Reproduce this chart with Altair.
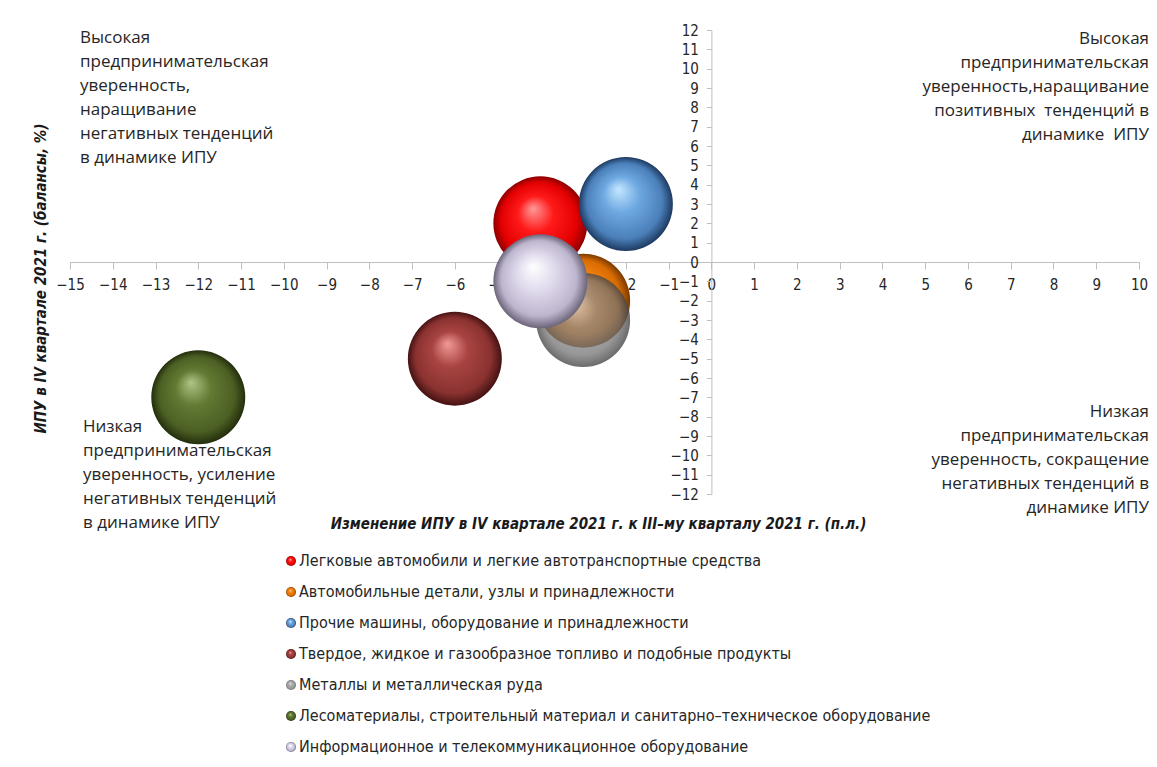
import altair as alt
import pandas as pd

# ---- data ----
categories = [
    "Легковые автомобили  и  легкие автотранспортные средства",
    "Автомобильные детали, узлы и принадлежности",
    "Прочие машины, оборудование и принадлежности",
    "Твердое, жидкое и газообразное топливо и подобные продукты",
    "Металлы и металлическая руда",
    "Лесоматериалы, строительный материал и санитарно–техническое оборудование",
    "Информационное и телекоммуникационное оборудование",
]
x_change = [-4, -3, -2, -6, -3, -12, -4]   # change of IPU, p.p.
y_ipu = [2, -2, 3, -5, -3, -7, -1]          # IPU in Q4 2021, balance %

x_ticks = list(range(-15, 11))
y_ticks = list(range(-12, 13))

x_title = "Изменение ИПУ в IV квартале 2021 г. к III–му кварталу 2021 г. (п.л.)"
y_title = "ИПУ в  IV квартале 2021 г.  (балансы, %)"

note_tl = ["Высокая", "предпринимательская", "уверенность,", "наращивание",
           "негативных тенденций", "в динамике ИПУ"]
note_tr = ["Высокая", "предпринимательская", "уверенность,наращивание",
           "позитивных\u00a0 тенденций в", "динамике\u00a0 ИПУ"]
note_bl = ["Низкая", "предпринимательская", "уверенность, усиление",
           "негативных тенденций", "в динамике ИПУ"]
note_br = ["Низкая", "предпринимательская", "уверенность, сокращение",
           "негативных тенденций в", "динамике ИПУ"]

# sphere shading: highlight, body, shade, rim
sphere_stops = [
    ["#ff9a9a", "#ff1a1a", "#e30000", "#8c0000"],
    ["#ffc586", "#f58214", "#d96c00", "#7a3a00"],
    ["#c4e8ff", "#6fa9e2", "#4b80ba", "#1d3a60"],
    ["#f29a98", "#a84442", "#8a3230", "#451212"],
    ["rgba(215,215,215,0.72)", "rgba(140,140,140,0.72)", "rgba(115,115,115,0.74)", "rgba(70,70,70,0.8)"],
    ["#b1c486", "#627a33", "#4b5f23", "#232e0c"],
    ["#ffffff", "#e2dcee", "#bdb5cd", "#6b6479"],
]

def grad_expr(cols):
    offs = [0, 0.38, 0.8, 1]
    s = ",".join("{offset:%s,color:'%s'}" % (o, c) for o, c in zip(offs, cols))
    return ("{gradient:'radial',x1:0.42,y1:0.34,r1:0,x2:0.5,y2:0.5,r2:0.5,"
            "stops:[" + s + "]}")

color_range = [{"expr": grad_expr(c)} for c in sphere_stops]

df = pd.DataFrame({"cat": categories, "x": x_change, "y": y_ipu,
                   "idx": list(range(len(categories)))})

NARROW = "Liberation Sans Narrow, Arial Narrow, DejaVu Sans Condensed, sans-serif"
BODY = "Open Sans, Lato, sans-serif"
W, H = 1069, 464

x_enc = alt.X("x:Q",
              scale=alt.Scale(domain=[-15, 10], nice=False, zero=False),
              axis=alt.Axis(values=x_ticks, offset=-H / 2, title=x_title,
                            titleX=528, titleY=261, titleBaseline="middle",
                            titleFont=NARROW, titleFontSize=15,
                            titleFontWeight="bold", titleFontStyle="italic",
                            titleColor="#1a1a1a",
                            labelFont=NARROW, labelFontSize=15, labelColor="#262626",
                            labelPadding=8, tickSize=7, labelFlush=False,
                            labelOverlap=False, grid=False,
                            domainColor="#bfbfbf", tickColor="#bfbfbf"))
y_enc = alt.Y("y:Q",
              scale=alt.Scale(domain=[-12, 12], nice=False, zero=False),
              axis=alt.Axis(values=y_ticks, offset=-W * 15 / 25, title=y_title,
                            titleX=-671, titleY=248, titleAngle=270,
                            titleAlign="center", titleBaseline="middle",
                            titleFont=NARROW, titleFontSize=15,
                            titleFontWeight="bold", titleFontStyle="italic",
                            titleColor="#1a1a1a",
                            labelFont=NARROW, labelFontSize=15, labelColor="#262626",
                            labelPadding=8, tickSize=5, labelFlush=False,
                            labelOverlap=False, grid=False,
                            domainColor="#bfbfbf", tickColor="#bfbfbf"))

bubbles = alt.Chart(df).mark_point(filled=True, opacity=1, size=8836, shape="circle").encode(
    x=x_enc, y=y_enc,
    color=alt.Color("cat:N",
                    scale=alt.Scale(domain=categories, range=color_range),
                    legend=alt.Legend(title=None, orient="none", legendX=213, legendY=523,
                                      direction="vertical", labelFont=NARROW,
                                      labelFontSize=16, labelColor="#262626",
                                      symbolSize=100, symbolType="circle",
                                      symbolStrokeWidth=0,
                                      rowPadding=15, labelOffset=0, padding=0,
                                      labelLimit=0)),
    order=alt.Order("idx:Q"),
)

def note(lines, x, y, align):
    return alt.Chart(pd.DataFrame({"t": [lines]})).mark_text(
        align=align, baseline="alphabetic", font=BODY, fontSize=17,
        lineHeight=24, color="#262626").encode(
        text="t:N", x=alt.value(x), y=alt.value(y))

chart = alt.layer(
    bubbles,
    note(note_tl, 10, 13, "left"),
    note(note_tr, 1079, 14, "right"),
    note(note_bl, 13, 402, "left"),
    note(note_br, 1079, 387, "right"),
).properties(
    width=W, height=H,
    background="white",
    autosize=alt.AutoSizeParams(type="none"),
    padding={"left": 62, "top": 22, "right": 10, "bottom": 270},
).configure_view(stroke=None)

chart.save("out.html", embed_options={"renderer": "svg", "actions": False})
